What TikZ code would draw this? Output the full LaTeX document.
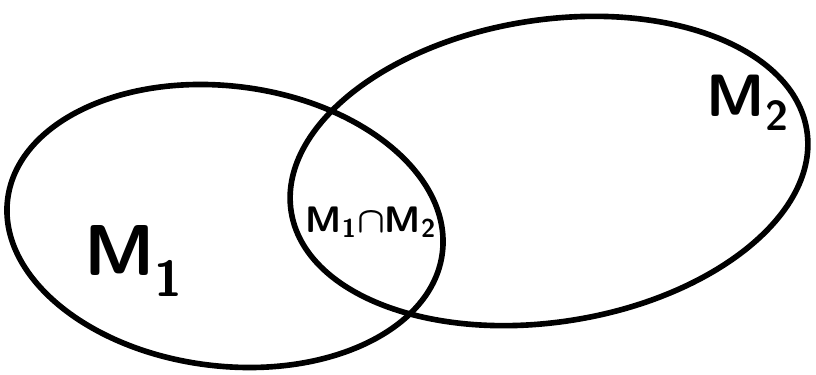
\documentclass[tikz,border=0pt]{standalone}
\usepackage{amsmath}
\begin{document}
\begin{tikzpicture}[x=0.02cm,y=0.02cm,line join=round,line cap=round,line width=3.2pt,font=\sffamily\bfseries\boldmath]
	\useasboundingbox (0,0) rectangle (816,375);
	\draw[rotate around={-7:(225,149)}] (225,149) ellipse (219 and 140);
	\draw[rotate around={9:(549,204)}] (549,204) ellipse (261 and 151);
	\node (m1) at (134,114) {\fontsize{41}{45}\selectfont M$_{\textbf{1}}$};
	\node (m2) at (748,272) {\fontsize{34}{38}\selectfont M$_{\textbf{2}}$};
	\node (cap) at (371,153) {\fontsize{21}{24}\selectfont M$_{\textbf{1}}{\cap}$M$_{\textbf{2}}$};
\end{tikzpicture}
\end{document}
